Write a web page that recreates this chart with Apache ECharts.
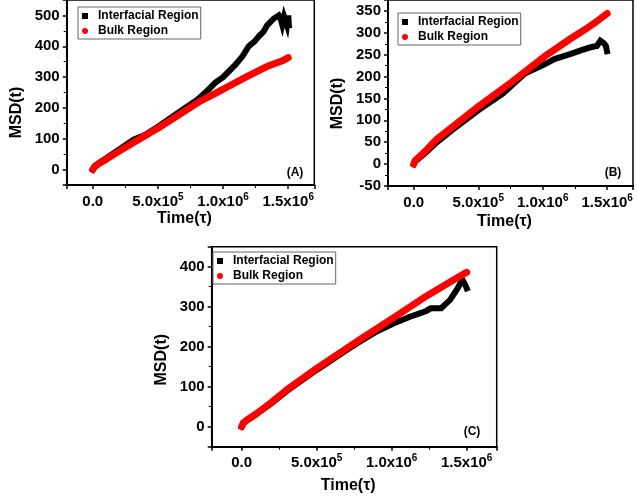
<!DOCTYPE html>
<html><head><meta charset="utf-8">
<script src="https://cdn.jsdelivr.net/npm/echarts@6/dist/echarts.min.js"></script>
<style>html,body{margin:0;padding:0;background:#fff}#c{width:637px;height:503px}</style>
</head><body><div id="c"></div>
<script>
const seriesNames = ['Interfacial Region', 'Bulk Region'];
const panelLabels = ['(A)', '(B)', '(C)'];
const xName = 'Time(\u03C4)';
const yName = 'MSD(t)';

// Panel A
const interfacialA = [[0,0],[15000,11],[50000,22],[100000,36],[185000,60],[313000,97],[400000,112],[500000,139],[600000,168],[700000,197],[800000,226],[877000,255],[941000,282],[1000000,300],[1095000,340],[1150000,368],[1197000,400],[1240000,415],[1274000,432],[1310000,447],[1338000,468],[1389000,490],[1428000,500],[1440000,492],[1454000,470],[1468000,496],[1480000,490],[1490000,468],[1500000,500],[1505000,468]];
const bulkA = [[0,0],[15000,10],[50000,20],[100000,33],[185000,55],[313000,88],[500000,134],[700000,188],[825000,222],[941000,247],[1050000,272],[1197000,305],[1351000,337],[1450000,352],[1500000,363]];
// Panel B
const interfacialB = [[0,0],[10000,6],[44000,14],[100000,28],[171000,48],[299000,78],[500000,123],[690000,161],[861000,207],[1014000,228],[1090000,240],[1218000,252],[1295000,260],[1371000,267],[1420000,270],[1447000,282],[1460000,285],[1475000,276],[1490000,270],[1498000,258]];
const bulkB = [[0,0],[10000,8],[44000,17],[100000,33],[171000,55],[299000,85],[503000,132],[758000,187],[1014000,246],[1218000,287],[1330000,308],[1400000,322],[1500000,344]];
// Panel C
const interfacialC = [[0,0],[10000,8],[40000,17],[100000,32],[189000,56],[300000,89],[500000,142],[700000,192],[789000,213],[900000,238],[1011000,258],[1122000,275],[1200000,285],[1233000,290],[1260000,296],[1300000,296],[1330000,296],[1389000,317],[1433000,342],[1460000,360],[1475000,365],[1490000,355],[1500000,346]];
const bulkC = [[0,0],[10000,9],[40000,18],[100000,33],[189000,58],[300000,92],[500000,146],[789000,218],[1011000,272],[1233000,327],[1400000,364],[1500000,386]];

const xMin = -200000, xMax = 1700000;
const yRanges = [[-50, 550, 6, 100], [-50, 375, 8, 50], [-50, 450, 5, 100]];

const grids = [
  {left: 66.7, top: -3, width: 247.6, height: 188},
  {left: 388, top: -1, width: 245, height: 187},
  {left: 211.7, top: 246.7, width: 285, height: 200}
];
const xNameGaps = [26, 28, 31];
const yNamePad = [40, 21, 26];
const legendPos = [{left: 78, top: 7}, {left: 398, top: 13}, {left: 213, top: 252}];
const labelPos = [[295, 173], [613, 173], [472, 432]];

const FONT = '"Liberation Sans", Arial, sans-serif';

function xFmt(v) {
  if (Math.abs(v) < 1) return '{b|0.0}';
  if (v % 500000 !== 0) return '';
  const e = Math.floor(Math.log10(v) + 1e-9);
  const m = v / Math.pow(10, e);
  return '{b|' + m.toFixed(1) + 'x10}{s|' + e + '}';
}

const data = [[interfacialA, bulkA], [interfacialB, bulkB], [interfacialC, bulkC]];

const option = {
  animation: false,
  backgroundColor: '#fff',
  textStyle: {fontFamily: FONT},
  grid: grids.map(g => Object.assign({show: true, borderColor: '#000', borderWidth: 1.5, backgroundColor: 'transparent', containLabel: false}, g)),
  xAxis: grids.map((g, i) => ({
    type: 'value', gridIndex: i, min: xMin, max: xMax, splitNumber: 4,
    name: xName, nameLocation: 'middle', nameGap: xNameGaps[i],
    nameTextStyle: {fontSize: 16, fontWeight: 'bold', color: '#000', fontFamily: FONT, padding: [0, 12, 0, 0]},
    axisLine: {show: true, onZero: false, lineStyle: {color: '#000', width: 2}},
    axisTick: {show: true, inside: false, length: 4, lineStyle: {color: '#000', width: 1.5}},
    minorTick: {show: true, splitNumber: 2, length: 3, lineStyle: {color: '#000', width: 1}},
    splitLine: {show: false},
    axisLabel: {margin: 7, color: '#000', formatter: xFmt,
      rich: {b: {fontSize: 15, fontWeight: 'bold', color: '#000', fontFamily: FONT, lineHeight: 19},
             s: {fontSize: 10, fontWeight: 'bold', color: '#000', fontFamily: FONT, lineHeight: 11, verticalAlign: 'top'}}}
  })),
  yAxis: grids.map((g, i) => ({
    type: 'value', gridIndex: i, min: yRanges[i][0], max: yRanges[i][1], splitNumber: yRanges[i][2],
    name: yName, nameLocation: 'middle', nameGap: 42,
    nameTextStyle: {fontSize: 16, fontWeight: 'bold', color: '#000', fontFamily: FONT, padding: [0, yNamePad[i], 0, 0]},
    axisLine: {show: true, onZero: false, lineStyle: {color: '#000', width: 2}},
    axisTick: {show: true, inside: false, length: 4, lineStyle: {color: '#000', width: 1.5}},
    minorTick: {show: true, splitNumber: 2, length: 3, lineStyle: {color: '#000', width: 1}},
    splitLine: {show: false},
    axisLabel: {margin: 7, fontSize: 15, fontWeight: 'bold', color: '#000', fontFamily: FONT,
      formatter: v => (v % yRanges[i][3] === 0 ? String(v) : '')}
  })),
  legend: legendPos.map(p => ({
    left: p.left, top: p.top, orient: 'vertical', padding: [3, 2, 2, 4], itemGap: 3,
    itemWidth: 16, itemHeight: 6, borderColor: '#666', borderWidth: 1, backgroundColor: '#fff',
    selectedMode: false,
    textStyle: {fontSize: 12, fontWeight: 'bold', color: '#000', fontFamily: FONT},
    data: [{name: seriesNames[0], icon: 'path://M0,0L10,0L10,10L0,10Z'}, {name: seriesNames[1], icon: 'circle'}]
  })),
  graphic: labelPos.map((p, i) => ({
    type: 'text', x: p[0], y: p[1],
    style: {text: panelLabels[i], fontSize: 12, fontWeight: 'bold', fill: '#000', font: 'bold 12px ' + FONT, align: 'center', verticalAlign: 'middle'}
  })),
  series: []
};

data.forEach((pair, i) => {
  option.series.push({
    name: seriesNames[0], type: 'line', xAxisIndex: i, yAxisIndex: i, data: pair[0],
    showSymbol: false, symbol: 'none', color: '#000',
    lineStyle: {color: '#000', width: 6, cap: 'square', join: 'miter'}, z: 2
  });
  option.series.push({
    name: seriesNames[1], type: 'line', xAxisIndex: i, yAxisIndex: i, data: pair[1],
    showSymbol: false, symbol: 'none', color: '#ff0000',
    lineStyle: {color: '#ff0000', width: 7, cap: 'round', join: 'round'}, z: 3
  });
});

const chart = echarts.init(document.getElementById('c'), null, {renderer: 'canvas'});
chart.setOption(option);
</script>
</body></html>
